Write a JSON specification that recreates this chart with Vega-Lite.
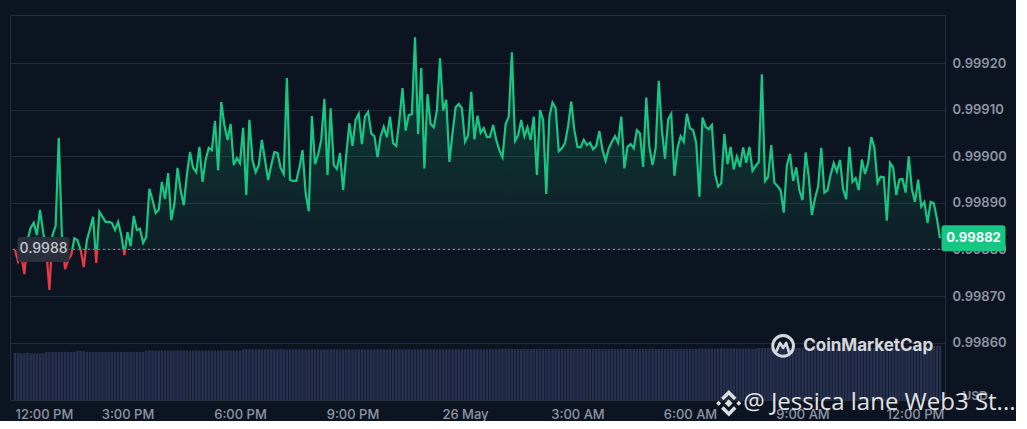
{
  "$schema": "https://vega.github.io/schema/vega-lite/v6.json",
  "width": 935,
  "height": 385,
  "padding": {"left": 9, "top": 15, "right": 0, "bottom": 0},
  "autosize": {"type": "pad"},
  "background": "#0d1421",
  "config": {
    "font": "Inter",
    "view": {"stroke": "#262d3b", "strokeWidth": 1}
  },
  "datasets": {
    "ref": [{"t": "2024-05-25T12:00", "p": 0.9988}],
    "prices": [
{"t":"2024-05-25T12:00","p":0.998799,"v":470},{"t":"2024-05-25T12:05","p":0.998774,"v":471},{"t":"2024-05-25T12:10","p":0.998788,"v":469},{"t":"2024-05-25T12:15","p":0.998747,"v":470},{"t":"2024-05-25T12:20","p":0.998820,"v":472},{"t":"2024-05-25T12:25","p":0.998846,"v":468},{"t":"2024-05-25T12:30","p":0.998857,"v":467},{"t":"2024-05-25T12:35","p":0.998831,"v":466},{"t":"2024-05-25T12:40","p":0.998885,"v":467},{"t":"2024-05-25T12:45","p":0.998837,"v":468},{"t":"2024-05-25T12:50","p":0.998799,"v":480},{"t":"2024-05-25T12:55","p":0.998713,"v":481},
{"t":"2024-05-25T13:00","p":0.998831,"v":480},{"t":"2024-05-25T13:05","p":0.998850,"v":479},{"t":"2024-05-25T13:10","p":0.999039,"v":480},{"t":"2024-05-25T13:15","p":0.998831,"v":481},{"t":"2024-05-25T13:20","p":0.998758,"v":482},{"t":"2024-05-25T13:25","p":0.998777,"v":480},{"t":"2024-05-25T13:30","p":0.998788,"v":480},{"t":"2024-05-25T13:35","p":0.998824,"v":481},{"t":"2024-05-25T13:40","p":0.998820,"v":490},{"t":"2024-05-25T13:45","p":0.998799,"v":491},{"t":"2024-05-25T13:50","p":0.998762,"v":490},{"t":"2024-05-25T13:55","p":0.998820,"v":482},
{"t":"2024-05-25T14:00","p":0.998844,"v":481},{"t":"2024-05-25T14:05","p":0.998870,"v":480},{"t":"2024-05-25T14:10","p":0.998771,"v":480},{"t":"2024-05-25T14:15","p":0.998881,"v":481},{"t":"2024-05-25T14:20","p":0.998870,"v":480},{"t":"2024-05-25T14:25","p":0.998859,"v":479},{"t":"2024-05-25T14:30","p":0.998859,"v":480},{"t":"2024-05-25T14:35","p":0.998857,"v":481},{"t":"2024-05-25T14:40","p":0.998842,"v":482},{"t":"2024-05-25T14:45","p":0.998859,"v":481},{"t":"2024-05-25T14:50","p":0.998831,"v":480},{"t":"2024-05-25T14:55","p":0.998788,"v":480},
{"t":"2024-05-25T15:00","p":0.998837,"v":481},{"t":"2024-05-25T15:05","p":0.998807,"v":482},{"t":"2024-05-25T15:10","p":0.998872,"v":483},{"t":"2024-05-25T15:15","p":0.998842,"v":481},{"t":"2024-05-25T15:20","p":0.998844,"v":480},{"t":"2024-05-25T15:25","p":0.998814,"v":480},{"t":"2024-05-25T15:30","p":0.998827,"v":493},{"t":"2024-05-25T15:35","p":0.998930,"v":494},{"t":"2024-05-25T15:40","p":0.998906,"v":493},{"t":"2024-05-25T15:45","p":0.998878,"v":492},{"t":"2024-05-25T15:50","p":0.998885,"v":493},{"t":"2024-05-25T15:55","p":0.998945,"v":494},
{"t":"2024-05-25T16:00","p":0.998908,"v":495},{"t":"2024-05-25T16:05","p":0.998964,"v":493},{"t":"2024-05-25T16:10","p":0.998863,"v":493},{"t":"2024-05-25T16:15","p":0.998897,"v":492},{"t":"2024-05-25T16:20","p":0.998975,"v":493},{"t":"2024-05-25T16:25","p":0.998927,"v":494},{"t":"2024-05-25T16:30","p":0.998895,"v":493},{"t":"2024-05-25T16:35","p":0.998960,"v":493},{"t":"2024-05-25T16:40","p":0.999009,"v":492},{"t":"2024-05-25T16:45","p":0.998975,"v":493},{"t":"2024-05-25T16:50","p":0.998966,"v":494},{"t":"2024-05-25T16:55","p":0.999020,"v":495},
{"t":"2024-05-25T17:00","p":0.998945,"v":493},{"t":"2024-05-25T17:05","p":0.998992,"v":493},{"t":"2024-05-25T17:10","p":0.999018,"v":492},{"t":"2024-05-25T17:15","p":0.999013,"v":493},{"t":"2024-05-25T17:20","p":0.999076,"v":494},{"t":"2024-05-25T17:25","p":0.998970,"v":493},{"t":"2024-05-25T17:30","p":0.999116,"v":493},{"t":"2024-05-25T17:35","p":0.999067,"v":494},{"t":"2024-05-25T17:40","p":0.999035,"v":493},{"t":"2024-05-25T17:45","p":0.999069,"v":492},{"t":"2024-05-25T17:50","p":0.998981,"v":493},{"t":"2024-05-25T17:55","p":0.998996,"v":494},
{"t":"2024-05-25T18:00","p":0.998985,"v":493},{"t":"2024-05-25T18:05","p":0.999061,"v":506},{"t":"2024-05-25T18:10","p":0.998917,"v":507},{"t":"2024-05-25T18:15","p":0.999078,"v":508},{"t":"2024-05-25T18:20","p":0.998992,"v":507},{"t":"2024-05-25T18:25","p":0.998966,"v":506},{"t":"2024-05-25T18:30","p":0.998981,"v":507},{"t":"2024-05-25T18:35","p":0.999035,"v":507},{"t":"2024-05-25T18:40","p":0.998992,"v":508},{"t":"2024-05-25T18:45","p":0.998949,"v":507},{"t":"2024-05-25T18:50","p":0.998981,"v":506},{"t":"2024-05-25T18:55","p":0.999009,"v":507},
{"t":"2024-05-25T19:00","p":0.999007,"v":507},{"t":"2024-05-25T19:05","p":0.998975,"v":508},{"t":"2024-05-25T19:10","p":0.998962,"v":507},{"t":"2024-05-25T19:15","p":0.999168,"v":506},{"t":"2024-05-25T19:20","p":0.998949,"v":507},{"t":"2024-05-25T19:25","p":0.998947,"v":507},{"t":"2024-05-25T19:30","p":0.998947,"v":508},{"t":"2024-05-25T19:35","p":0.998975,"v":507},{"t":"2024-05-25T19:40","p":0.999013,"v":507},{"t":"2024-05-25T19:45","p":0.998921,"v":505},{"t":"2024-05-25T19:50","p":0.998882,"v":505},{"t":"2024-05-25T19:55","p":0.999086,"v":506},
{"t":"2024-05-25T20:00","p":0.998983,"v":505},{"t":"2024-05-25T20:05","p":0.999003,"v":505},{"t":"2024-05-25T20:10","p":0.999035,"v":504},{"t":"2024-05-25T20:15","p":0.999123,"v":505},{"t":"2024-05-25T20:20","p":0.998960,"v":506},{"t":"2024-05-25T20:25","p":0.999103,"v":505},{"t":"2024-05-25T20:30","p":0.998981,"v":505},{"t":"2024-05-25T20:35","p":0.998973,"v":504},{"t":"2024-05-25T20:40","p":0.999007,"v":505},{"t":"2024-05-25T20:45","p":0.998927,"v":505},{"t":"2024-05-25T20:50","p":0.999003,"v":506},{"t":"2024-05-25T20:55","p":0.999071,"v":505},
{"t":"2024-05-25T21:00","p":0.999022,"v":505},{"t":"2024-05-25T21:05","p":0.999078,"v":506},{"t":"2024-05-25T21:10","p":0.999091,"v":507},{"t":"2024-05-25T21:15","p":0.999026,"v":506},{"t":"2024-05-25T21:20","p":0.999085,"v":505},{"t":"2024-05-25T21:25","p":0.999095,"v":505},{"t":"2024-05-25T21:30","p":0.999049,"v":506},{"t":"2024-05-25T21:35","p":0.999043,"v":506},{"t":"2024-05-25T21:40","p":0.998998,"v":507},{"t":"2024-05-25T21:45","p":0.999043,"v":506},{"t":"2024-05-25T21:50","p":0.999063,"v":505},{"t":"2024-05-25T21:55","p":0.999041,"v":505},
{"t":"2024-05-25T22:00","p":0.999085,"v":506},{"t":"2024-05-25T22:05","p":0.999028,"v":506},{"t":"2024-05-25T22:10","p":0.999022,"v":507},{"t":"2024-05-25T22:15","p":0.999078,"v":507},{"t":"2024-05-25T22:20","p":0.999146,"v":506},{"t":"2024-05-25T22:25","p":0.999055,"v":506},{"t":"2024-05-25T22:30","p":0.999088,"v":507},{"t":"2024-05-25T22:35","p":0.999090,"v":507},{"t":"2024-05-25T22:40","p":0.999255,"v":508},{"t":"2024-05-25T22:45","p":0.999047,"v":507},{"t":"2024-05-25T22:50","p":0.999189,"v":507},{"t":"2024-05-25T22:55","p":0.998974,"v":506},
{"t":"2024-05-25T23:00","p":0.999133,"v":507},{"t":"2024-05-25T23:05","p":0.999069,"v":507},{"t":"2024-05-25T23:10","p":0.999062,"v":508},{"t":"2024-05-25T23:15","p":0.999098,"v":507},{"t":"2024-05-25T23:20","p":0.999210,"v":507},{"t":"2024-05-25T23:25","p":0.999098,"v":506},{"t":"2024-05-25T23:30","p":0.999121,"v":507},{"t":"2024-05-25T23:35","p":0.998988,"v":507},{"t":"2024-05-25T23:40","p":0.999049,"v":508},{"t":"2024-05-25T23:45","p":0.999105,"v":507},{"t":"2024-05-25T23:50","p":0.999112,"v":507},{"t":"2024-05-25T23:55","p":0.999103,"v":506},
{"t":"2024-05-26T00:00","p":0.999031,"v":507},{"t":"2024-05-26T00:05","p":0.999045,"v":507},{"t":"2024-05-26T00:10","p":0.999138,"v":508},{"t":"2024-05-26T00:15","p":0.999036,"v":507},{"t":"2024-05-26T00:20","p":0.999087,"v":507},{"t":"2024-05-26T00:25","p":0.999050,"v":508},{"t":"2024-05-26T00:30","p":0.999060,"v":507},{"t":"2024-05-26T00:35","p":0.999041,"v":507},{"t":"2024-05-26T00:40","p":0.999042,"v":508},{"t":"2024-05-26T00:45","p":0.999067,"v":508},{"t":"2024-05-26T00:50","p":0.999035,"v":507},{"t":"2024-05-26T00:55","p":0.999013,"v":508},
{"t":"2024-05-26T01:00","p":0.998998,"v":510},{"t":"2024-05-26T01:05","p":0.999069,"v":510},{"t":"2024-05-26T01:10","p":0.999085,"v":511},{"t":"2024-05-26T01:15","p":0.999223,"v":510},{"t":"2024-05-26T01:20","p":0.999033,"v":510},{"t":"2024-05-26T01:25","p":0.999045,"v":509},{"t":"2024-05-26T01:30","p":0.999078,"v":510},{"t":"2024-05-26T01:35","p":0.999043,"v":511},{"t":"2024-05-26T01:40","p":0.999062,"v":510},{"t":"2024-05-26T01:45","p":0.999035,"v":510},{"t":"2024-05-26T01:50","p":0.999085,"v":510},{"t":"2024-05-26T01:55","p":0.998960,"v":509},
{"t":"2024-05-26T02:00","p":0.999099,"v":510},{"t":"2024-05-26T02:05","p":0.999078,"v":510},{"t":"2024-05-26T02:10","p":0.998919,"v":511},{"t":"2024-05-26T02:15","p":0.999085,"v":510},{"t":"2024-05-26T02:20","p":0.999115,"v":510},{"t":"2024-05-26T02:25","p":0.999103,"v":510},{"t":"2024-05-26T02:30","p":0.999011,"v":509},{"t":"2024-05-26T02:35","p":0.999017,"v":510},{"t":"2024-05-26T02:40","p":0.999028,"v":511},{"t":"2024-05-26T02:45","p":0.999065,"v":510},{"t":"2024-05-26T02:50","p":0.999117,"v":510},{"t":"2024-05-26T02:55","p":0.999056,"v":510},
{"t":"2024-05-26T03:00","p":0.999020,"v":510},{"t":"2024-05-26T03:05","p":0.999019,"v":511},{"t":"2024-05-26T03:10","p":0.999035,"v":510},{"t":"2024-05-26T03:15","p":0.999024,"v":510},{"t":"2024-05-26T03:20","p":0.999029,"v":509},{"t":"2024-05-26T03:25","p":0.999015,"v":510},{"t":"2024-05-26T03:30","p":0.999022,"v":510},{"t":"2024-05-26T03:35","p":0.999054,"v":511},{"t":"2024-05-26T03:40","p":0.999013,"v":510},{"t":"2024-05-26T03:45","p":0.998990,"v":510},{"t":"2024-05-26T03:50","p":0.999017,"v":510},{"t":"2024-05-26T03:55","p":0.999031,"v":511},
{"t":"2024-05-26T04:00","p":0.999043,"v":510},{"t":"2024-05-26T04:05","p":0.999029,"v":510},{"t":"2024-05-26T04:10","p":0.999085,"v":511},{"t":"2024-05-26T04:15","p":0.998974,"v":510},{"t":"2024-05-26T04:20","p":0.999020,"v":510},{"t":"2024-05-26T04:25","p":0.999026,"v":510},{"t":"2024-05-26T04:30","p":0.999017,"v":511},{"t":"2024-05-26T04:35","p":0.999056,"v":510},{"t":"2024-05-26T04:40","p":0.999049,"v":510},{"t":"2024-05-26T04:45","p":0.998977,"v":511},{"t":"2024-05-26T04:50","p":0.999126,"v":510},{"t":"2024-05-26T04:55","p":0.999020,"v":510},
{"t":"2024-05-26T05:00","p":0.998981,"v":511},{"t":"2024-05-26T05:05","p":0.999017,"v":510},{"t":"2024-05-26T05:10","p":0.999162,"v":510},{"t":"2024-05-26T05:15","p":0.999056,"v":511},{"t":"2024-05-26T05:20","p":0.998995,"v":510},{"t":"2024-05-26T05:25","p":0.999079,"v":510},{"t":"2024-05-26T05:30","p":0.999091,"v":511},{"t":"2024-05-26T05:35","p":0.998958,"v":510},{"t":"2024-05-26T05:40","p":0.999017,"v":511},{"t":"2024-05-26T05:45","p":0.999043,"v":510},{"t":"2024-05-26T05:50","p":0.999031,"v":510},{"t":"2024-05-26T05:55","p":0.999091,"v":511},
{"t":"2024-05-26T06:00","p":0.999060,"v":510},{"t":"2024-05-26T06:05","p":0.999056,"v":511},{"t":"2024-05-26T06:10","p":0.999028,"v":510},{"t":"2024-05-26T06:15","p":0.998913,"v":515},{"t":"2024-05-26T06:20","p":0.999083,"v":515},{"t":"2024-05-26T06:25","p":0.999063,"v":516},{"t":"2024-05-26T06:30","p":0.999058,"v":515},{"t":"2024-05-26T06:35","p":0.999067,"v":515},{"t":"2024-05-26T06:40","p":0.998962,"v":514},{"t":"2024-05-26T06:45","p":0.998935,"v":515},{"t":"2024-05-26T06:50","p":0.998942,"v":516},{"t":"2024-05-26T06:55","p":0.999048,"v":515},
{"t":"2024-05-26T07:00","p":0.998983,"v":515},{"t":"2024-05-26T07:05","p":0.999020,"v":515},{"t":"2024-05-26T07:10","p":0.998972,"v":516},{"t":"2024-05-26T07:15","p":0.998999,"v":515},{"t":"2024-05-26T07:20","p":0.998977,"v":515},{"t":"2024-05-26T07:25","p":0.999019,"v":514},{"t":"2024-05-26T07:30","p":0.998986,"v":515},{"t":"2024-05-26T07:35","p":0.999020,"v":516},{"t":"2024-05-26T07:40","p":0.998969,"v":515},{"t":"2024-05-26T07:45","p":0.998979,"v":515},{"t":"2024-05-26T07:50","p":0.998987,"v":520},{"t":"2024-05-26T07:55","p":0.999176,"v":520},
{"t":"2024-05-26T08:00","p":0.998947,"v":521},{"t":"2024-05-26T08:05","p":0.998956,"v":520},{"t":"2024-05-26T08:10","p":0.999024,"v":520},{"t":"2024-05-26T08:15","p":0.998943,"v":519},{"t":"2024-05-26T08:20","p":0.998936,"v":520},{"t":"2024-05-26T08:25","p":0.998927,"v":521},{"t":"2024-05-26T08:30","p":0.998879,"v":520},{"t":"2024-05-26T08:35","p":0.998981,"v":520},{"t":"2024-05-26T08:40","p":0.999005,"v":520},{"t":"2024-05-26T08:45","p":0.998947,"v":521},{"t":"2024-05-26T08:50","p":0.998976,"v":520},{"t":"2024-05-26T08:55","p":0.998927,"v":520},
{"t":"2024-05-26T09:00","p":0.998906,"v":519},{"t":"2024-05-26T09:05","p":0.999008,"v":520},{"t":"2024-05-26T09:10","p":0.998956,"v":521},{"t":"2024-05-26T09:15","p":0.998874,"v":520},{"t":"2024-05-26T09:20","p":0.998910,"v":520},{"t":"2024-05-26T09:25","p":0.998935,"v":520},{"t":"2024-05-26T09:30","p":0.999018,"v":521},{"t":"2024-05-26T09:35","p":0.998922,"v":520},{"t":"2024-05-26T09:40","p":0.998927,"v":520},{"t":"2024-05-26T09:45","p":0.998960,"v":519},{"t":"2024-05-26T09:50","p":0.998985,"v":520},{"t":"2024-05-26T09:55","p":0.998967,"v":521},
{"t":"2024-05-26T10:00","p":0.998992,"v":520},{"t":"2024-05-26T10:05","p":0.998929,"v":520},{"t":"2024-05-26T10:10","p":0.998908,"v":520},{"t":"2024-05-26T10:15","p":0.999020,"v":521},{"t":"2024-05-26T10:20","p":0.998945,"v":520},{"t":"2024-05-26T10:25","p":0.998953,"v":520},{"t":"2024-05-26T10:30","p":0.998927,"v":519},{"t":"2024-05-26T10:35","p":0.998993,"v":520},{"t":"2024-05-26T10:40","p":0.998962,"v":521},{"t":"2024-05-26T10:45","p":0.998986,"v":520},{"t":"2024-05-26T10:50","p":0.999041,"v":520},{"t":"2024-05-26T10:55","p":0.999019,"v":520},
{"t":"2024-05-26T11:00","p":0.998943,"v":521},{"t":"2024-05-26T11:05","p":0.998956,"v":520},{"t":"2024-05-26T11:10","p":0.998955,"v":520},{"t":"2024-05-26T11:15","p":0.998862,"v":520},{"t":"2024-05-26T11:20","p":0.998986,"v":521},{"t":"2024-05-26T11:25","p":0.998976,"v":520},{"t":"2024-05-26T11:30","p":0.998917,"v":520},{"t":"2024-05-26T11:35","p":0.998950,"v":521},{"t":"2024-05-26T11:40","p":0.998951,"v":520},{"t":"2024-05-26T11:45","p":0.998922,"v":520},{"t":"2024-05-26T11:50","p":0.999000,"v":521},{"t":"2024-05-26T11:55","p":0.998929,"v":522},
{"t":"2024-05-26T12:00","p":0.998902,"v":521},{"t":"2024-05-26T12:05","p":0.998950,"v":522},{"t":"2024-05-26T12:10","p":0.998892,"v":521},{"t":"2024-05-26T12:15","p":0.998902,"v":522},{"t":"2024-05-26T12:20","p":0.998857,"v":535},{"t":"2024-05-26T12:25","p":0.998902,"v":538},{"t":"2024-05-26T12:30","p":0.998899,"v":540},{"t":"2024-05-26T12:35","p":0.998867,"v":540},{"t":"2024-05-26T12:40","p":0.998824,"v":541}
    ]
  },
  "layer": [
    {
      "data": {"name": "prices"},
      "mark": {"type": "bar", "width": 2.5, "color": "#27304f", "clip": true},
      "encoding": {
        "x": {
          "field": "t", "type": "temporal",
          "scale": {"nice": false, "domain": [{"year": 2024, "month": 5, "date": 25, "hours": 12, "minutes": 0}, {"year": 2024, "month": 5, "date": 26, "hours": 12, "minutes": 40}]},
          "axis": {
            "title": null,
            "values": [
              {"year": 2024, "month": 5, "date": 25, "hours": 12},
              {"year": 2024, "month": 5, "date": 25, "hours": 15},
              {"year": 2024, "month": 5, "date": 25, "hours": 18},
              {"year": 2024, "month": 5, "date": 25, "hours": 21},
              {"year": 2024, "month": 5, "date": 26, "hours": 0},
              {"year": 2024, "month": 5, "date": 26, "hours": 3},
              {"year": 2024, "month": 5, "date": 26, "hours": 6},
              {"year": 2024, "month": 5, "date": 26, "hours": 9},
              {"year": 2024, "month": 5, "date": 26, "hours": 12}
            ],
            "labelExpr": "timeFormat(datum.value, '%H') == '00' ? timeFormat(datum.value, '%-d %b') : timeFormat(datum.value, '%-I:%M %p')",
            "labelAlign": {"condition": {"test": "timeFormat(datum.value, '%d%H') == '2512'", "value": "left"}, "value": "center"},
            "grid": false, "domain": false, "ticks": false,
            "labelPadding": 8, "labelColor": "#8e95a4", "labelFontSize": 13, "labelFontWeight": 500,
            "labelFlush": false, "labelBound": false, "zindex": 0
          }
        },
        "y": {"field": "v", "type": "quantitative", "scale": {"domain": [0, 3850]}, "axis": null}
      }
    },
    {
      "encoding": {
        "y": {
          "field": "p", "type": "quantitative",
          "scale": {"domain": [0.998477, 0.999303], "nice": false, "zero": false},
          "axis": {
            "orient": "right",
            "values": [0.9986, 0.9987, 0.9988, 0.9989, 0.999, 0.9991, 0.9992],
            "format": ".5f",
            "grid": true, "gridColor": "#222a38", "domain": false, "ticks": false,
            "labelPadding": 7, "labelColor": "#8e95a4", "labelFontSize": 13, "labelFontWeight": 600,
            "title": "USD", "titleAngle": 0, "titleX": 17, "titleY": 380, "titleAlign": "left", "titleBaseline": "middle",
            "titleColor": "#7f8594", "titleFontSize": 12, "titleFontWeight": 700, "zindex": 0
          }
        }
      },
      "layer": [
        {
          "data": {"name": "prices"},
          "mark": {
            "type": "area",
            "fill": {"gradient": "linear", "x1": 0, "y1": 0, "x2": 0, "y2": 1, "stops": [
              {"offset": 0, "color": "rgba(22,199,132,0.24)"},
              {"offset": 0.8395, "color": "rgba(22,199,132,0.06)"},
              {"offset": 0.8395, "color": "rgba(234,57,67,0.06)"},
              {"offset": 1, "color": "rgba(234,57,67,0.14)"}
            ]}
          },
          "encoding": {
            "x": {"field": "t", "type": "temporal"},
            "y2": {"datum": 0.9988}
          }
        },
        {
          "data": {"name": "ref"},
          "mark": {"type": "rule", "color": "#7a8192", "strokeDash": [2, 3], "strokeWidth": 1.2},
          "encoding": {}
        },
        {
          "data": {"name": "prices"},
          "mark": {
            "type": "line", "strokeWidth": 2.2,
            "stroke": {"gradient": "linear", "x1": 0, "y1": 0, "x2": 0, "y2": 1, "stops": [
              {"offset": 0, "color": "#16c784"},
              {"offset": 0.8395, "color": "#16c784"},
              {"offset": 0.8395, "color": "#ea3943"},
              {"offset": 1, "color": "#ea3943"}
            ]}
          },
          "encoding": {"x": {"field": "t", "type": "temporal"}}
        },
        {
          "data": {"name": "ref"},
          "mark": {"type": "point", "shape": "M-2.421,-1H2.421V1H-2.421Z", "size": 361, "filled": true,
            "fill": "#2a2f3b", "stroke": "#2a2f3b", "strokeWidth": 6, "strokeJoin": "round",
            "opacity": 1, "fillOpacity": 1, "strokeOpacity": 1, "xOffset": 28.5},
          "encoding": {"x": {"field": "t", "type": "temporal"}}
        },
        {
          "data": {"name": "ref"},
          "mark": {"type": "text", "color": "#c5c9d1", "fontSize": 14, "fontWeight": 500, "align": "center", "baseline": "middle", "xOffset": 28.5},
          "encoding": {"x": {"field": "t", "type": "temporal"}, "text": {"field": "p", "type": "quantitative", "format": ".4f"}}
        },
        {
          "data": {"name": "prices"},
          "transform": [
            {"window": [{"op": "row_number", "as": "rn"}], "sort": [{"field": "t", "order": "descending"}]},
            {"filter": "datum.rn == 1"}
          ],
          "layer": [
            {
              "mark": {"type": "point", "shape": "M-2.9,-1H2.9V1H-2.9Z", "size": 400, "filled": true,
                "fill": "#16c784", "stroke": "#16c784", "strokeWidth": 6, "strokeJoin": "round",
                "opacity": 1, "fillOpacity": 1, "strokeOpacity": 1, "xOffset": 33.5},
              "encoding": {"x": {"field": "t", "type": "temporal"}}
            },
            {
              "mark": {"type": "text", "color": "#ffffff", "fontSize": 13, "fontWeight": 700, "align": "center", "baseline": "middle", "xOffset": 33.5},
              "encoding": {"x": {"field": "t", "type": "temporal"}, "text": {"field": "p", "type": "quantitative", "format": ".5f"}}
            }
          ]
        }
      ]
    },
    {
      "data": {"values": [{"label": "CoinMarketCap"}]},
      "encoding": {
        "y": {"datum": 0.998593, "type": "quantitative", "scale": {"domain": [0.998477, 0.999303], "nice": false, "zero": false}, "axis": null}
      },
      "layer": [
        {
          "mark": {"type": "point", "shape": "circle", "size": 430, "filled": false, "stroke": "#e6e8ec", "strokeWidth": 3, "opacity": 0.92},
          "encoding": {"x": {"datum": {"year": 2024, "month": 5, "date": 26, "hours": 8, "minutes": 29}, "type": "temporal"}}
        },
        {
          "mark": {"type": "point", "shape": "M-0.62,0.45L-0.3,-0.3L0,0.2L0.3,-0.3L0.55,0.55", "size": 420, "filled": false, "stroke": "#e6e8ec", "strokeWidth": 2.6, "strokeJoin": "round", "strokeCap": "round", "opacity": 0.92},
          "encoding": {"x": {"datum": {"year": 2024, "month": 5, "date": 26, "hours": 8, "minutes": 29}, "type": "temporal"}}
        },
        {
          "mark": {"type": "text", "align": "left", "baseline": "middle", "fontSize": 17, "fontWeight": 700, "color": "#e6e8ec", "opacity": 0.92},
          "encoding": {
            "x": {"datum": {"year": 2024, "month": 5, "date": 26, "hours": 9, "minutes": 1}, "type": "temporal"},
            "text": {"field": "label", "type": "nominal"}
          }
        }
      ]
    },
    {
      "data": {"values": [{"label": "@ Jessica lane Web3 St..."}]},
      "encoding": {
        "y": {"datum": 0.99847, "type": "quantitative", "scale": {"domain": [0.998477, 0.999303], "nice": false, "zero": false}, "axis": null}
      },
      "layer": [
        {
          "mark": {"type": "point", "filled": true, "size": 784, "fill": "#e8e8e8", "opacity": 0.95, "strokeWidth": 0,
            "shape": "M0,-0.28L0.28,0L0,0.28L-0.28,0Z M-0.72,-0.18L-0.54,0L-0.72,0.18L-0.9,0Z M0.72,-0.18L0.9,0L0.72,0.18L0.54,0Z M0,-0.95L0.55,-0.4L0.37,-0.22L0,-0.59L-0.37,-0.22L-0.55,-0.4Z M0,0.95L0.55,0.4L0.37,0.22L0,0.59L-0.37,0.22L-0.55,0.4Z"},
          "encoding": {"x": {"datum": {"year": 2024, "month": 5, "date": 26, "hours": 7, "minutes": 2}, "type": "temporal"}}
        },
        {
          "mark": {"type": "text", "align": "left", "baseline": "middle", "font": "Open Sans", "fontSize": 24, "fontWeight": 400, "color": "#ededed", "opacity": 0.95},
          "encoding": {
            "x": {"datum": {"year": 2024, "month": 5, "date": 26, "hours": 7, "minutes": 25}, "type": "temporal"},
            "text": {"field": "label", "type": "nominal"}
          }
        }
      ]
    }
  ],
  "resolve": {"scale": {"y": "independent"}}
}
